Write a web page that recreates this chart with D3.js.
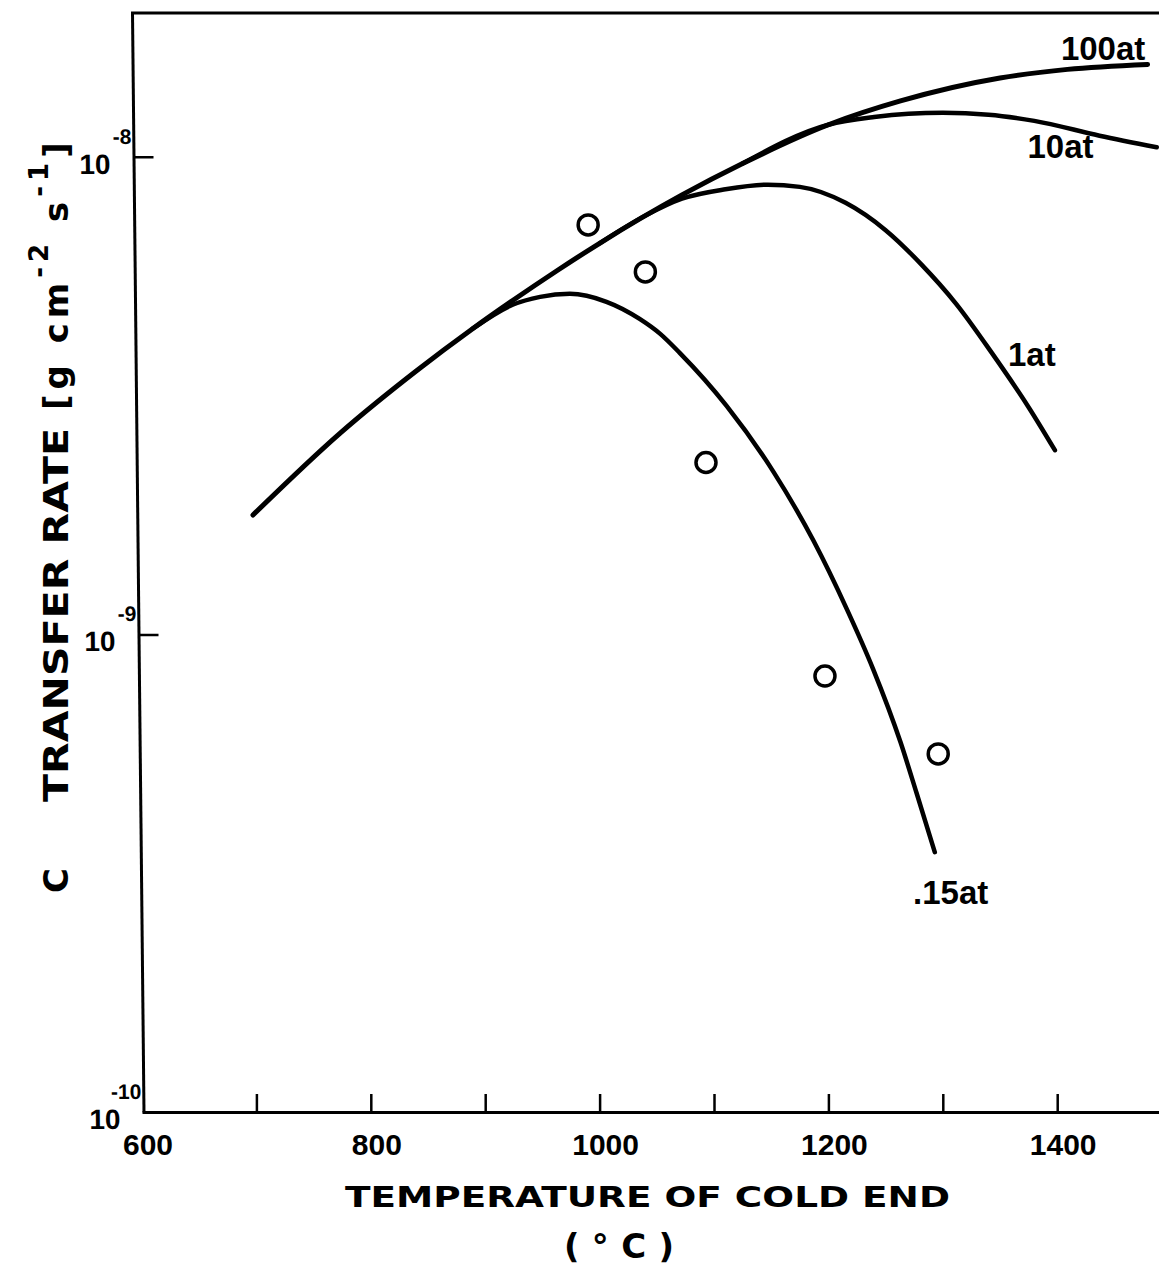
<!DOCTYPE html>
<html>
<head>
<meta charset="utf-8">
<script src="https://cdn.jsdelivr.net/npm/d3@7"></script>
<style>
  html, body { margin: 0; padding: 0; background: #fff; }
  svg { display: block; }
  text { fill: #000; }
</style>
</head>
<body>
<svg id="chart" width="1159" height="1269"></svg>
<script>
// temperature of cold end (deg C) and C transfer rate (g cm^-2 s^-1)
var temps100 = [697, 773, 840, 889, 924, 963, 1000, 1072, 1125, 1200, 1263, 1350, 1409, 1479];
var rates100 = [1.778e-9, 2.636e-9, 3.565e-9, 4.365e-9, 5.0e-9, 5.78e-9, 6.59e-9, 8.32e-9, 9.68e-9,
                1.167e-8, 1.309e-8, 1.462e-8, 1.524e-8, 1.561e-8];

var temps10 = [1125, 1200, 1240, 1270, 1300, 1340, 1380, 1437, 1487];
var rates10 = [9.68e-9, 1.167e-8, 1.211e-8, 1.230e-8, 1.236e-8, 1.225e-8, 1.189e-8, 1.107e-8, 1.047e-8];

var temps1 = [1000, 1040, 1072, 1110, 1147, 1175, 1215, 1250, 1281, 1312, 1343, 1375, 1398];
var rates1 = [6.59e-9, 7.53e-9, 8.17e-9, 8.55e-9, 8.74e-9, 8.65e-9, 8.01e-9, 7.02e-9, 5.96e-9,
              4.91e-9, 3.88e-9, 2.99e-9, 2.43e-9];

var temps015 = [889, 924, 948, 974, 1006, 1035, 1053, 1070, 1111, 1152, 1187, 1216, 1239, 1263, 1277, 1293];
var rates015 = [4.365e-9, 4.90e-9, 5.09e-9, 5.165e-9, 4.97e-9, 4.577e-9, 4.258e-9, 3.886e-9, 3.009e-9,
                2.189e-9, 1.570e-9, 1.131e-9, 8.47e-10, 5.95e-10, 4.66e-10, 3.50e-10];

// measured points (open circles)
var pointTemps = [990, 1040, 1093, 1197, 1296];
var pointRates = [7.20e-9, 5.74e-9, 2.29e-9, 8.18e-10, 5.62e-10];

var seriesNames = ['100at', '10at', '1at', '.15at'];
var labelTemps = [1477, 1374, 1357, 1274];
var labelRates = [1.596e-8, 9.95e-9, 3.65e-9, 2.73e-10];
var labelAnchors = ['end', 'start', 'start', 'start'];

var xTicks = [700, 800, 900, 1000, 1100, 1200, 1300, 1400];
var xTickLabels = [600, 800, 1000, 1200, 1400];
var yTicks = [1e-10, 1e-9, 1e-8];
var yExponents = ['-10', '-9', '-8'];

var svg = d3.select('#chart');

var x = d3.scaleLinear().domain([600, 1500]).range([142, 1171.6]);
var y = d3.scaleLog().domain([1e-10, 2e-8]).range([1112, 13]);

var numFont = '"Liberation Sans", Arial, sans-serif';
var titleFont = '"DejaVu Sans", sans-serif';

// bottom axis, ticks pointing inward
var gx = svg.append('g')
  .attr('transform', 'translate(0,' + y.range()[0] + ')')
  .call(d3.axisBottom(x).tickValues(xTicks).tickSize(-18).tickSizeOuter(0).tickFormat(''));
gx.select('.domain').attr('stroke', '#000').attr('stroke-width', 3);
gx.selectAll('.tick line').attr('stroke', '#000').attr('stroke-width', 2.5);

svg.append('g').selectAll('text')
  .data(xTickLabels)
  .join('text')
  .attr('x', function(d) { return x(d) + 6; })
  .attr('y', 1155)
  .attr('text-anchor', 'middle')
  .attr('font-family', numFont)
  .attr('font-weight', 'bold')
  .attr('font-size', 30)
  .text(function(d) { return d; });

// left axis: the original frame is drawn slightly slanted
var gy = svg.append('g')
  .attr('transform', 'translate(143.5,1112) skewX(0.6) translate(0,-1112)')
  .call(d3.axisLeft(y).tickValues(yTicks).tickSize(-20).tickSizeOuter(0).tickFormat(''));
gy.select('.domain').attr('stroke', '#000').attr('stroke-width', 3);
gy.selectAll('.tick line').attr('stroke', '#000').attr('stroke-width', 2.5);

// "10" with its exponent as one label per tick
var yLab = gy.append('g').selectAll('text')
  .data(yTicks)
  .join('text')
  .attr('transform', function(d) { return 'translate(0,' + y(d) + ')'; })
  .attr('text-anchor', 'end')
  .attr('font-family', numFont)
  .attr('font-weight', 'bold');
yLab.append('tspan')
  .attr('x', -23).attr('y', 17)
  .attr('font-size', 28)
  .text('10');
yLab.append('tspan')
  .attr('x', -2).attr('y', -13)
  .attr('font-size', 21)
  .text(function(d, i) { return yExponents[i]; });

// top frame line
svg.append('line')
  .attr('x1', 131).attr('x2', x(1500))
  .attr('y1', y(2e-8)).attr('y2', y(2e-8))
  .attr('stroke', '#000').attr('stroke-width', 3);

// curves
var line = d3.line()
  .x(function(d) { return x(d[0]); })
  .y(function(d) { return y(d[1]); })
  .curve(d3.curveMonotoneX);

var curves = [
  { temps: temps100, rates: rates100, w: 5 },
  { temps: temps10, rates: rates10, w: 4.5 },
  { temps: temps1, rates: rates1, w: 4.5 },
  { temps: temps015, rates: rates015, w: 4.5 }
];

svg.append('g').selectAll('path')
  .data(curves)
  .join('path')
  .attr('d', function(c) { return line(d3.zip(c.temps, c.rates)); })
  .attr('fill', 'none')
  .attr('stroke', '#000')
  .attr('stroke-width', function(c) { return c.w; })
  .attr('stroke-linecap', 'round')
  .attr('stroke-linejoin', 'round');

// open circles
svg.append('g').selectAll('circle')
  .data(d3.zip(pointTemps, pointRates))
  .join('circle')
  .attr('cx', function(d) { return x(d[0]); })
  .attr('cy', function(d) { return y(d[1]); })
  .attr('r', 10)
  .attr('fill', 'none')
  .attr('stroke', '#000')
  .attr('stroke-width', 3.5);

// curve labels
svg.append('g').selectAll('text')
  .data(seriesNames)
  .join('text')
  .attr('x', function(d, i) { return x(labelTemps[i]); })
  .attr('y', function(d, i) { return y(labelRates[i]); })
  .attr('text-anchor', function(d, i) { return labelAnchors[i]; })
  .attr('font-family', numFont)
  .attr('font-weight', 'bold')
  .attr('font-size', 33)
  .text(function(d) { return d; });

// x title
svg.append('text')
  .attr('x', 345).attr('y', 1207)
  .attr('textLength', 605).attr('lengthAdjust', 'spacingAndGlyphs')
  .attr('font-family', titleFont).attr('font-weight', 'bold').attr('font-size', 28)
  .text('TEMPERATURE OF COLD END');
svg.append('text')
  .attr('x', 564).attr('y', 1258)
  .attr('textLength', 110).attr('lengthAdjust', 'spacing')
  .attr('font-family', titleFont).attr('font-weight', 'bold').attr('font-size', 34)
  .attr('xml:space', 'preserve')
  .text('(\u00B0C)');

// y title, rotated
var yt = svg.append('g').attr('transform', 'translate(68,0) rotate(-90)');
yt.append('text')
  .attr('x', -893).attr('y', 0)
  .attr('font-family', titleFont).attr('font-weight', 'bold').attr('font-size', 34)
  .text('C');
yt.append('text')
  .attr('x', -802).attr('y', 0)
  .attr('textLength', 374).attr('lengthAdjust', 'spacingAndGlyphs')
  .attr('font-family', titleFont).attr('font-weight', 'bold').attr('font-size', 34)
  .text('TRANSFER RATE');
var unit = yt.append('text')
  .attr('x', -410).attr('y', 0)
  .attr('font-family', titleFont).attr('font-weight', 'bold').attr('font-size', 34)
  .attr('letter-spacing', 5)
  .attr('xml:space', 'preserve');
unit.append('tspan').text('[g cm');
unit.append('tspan').attr('dy', -20).attr('font-size', 26).text('-2');
unit.append('tspan').attr('dy', 20).text(' s');
unit.append('tspan').attr('dy', -20).attr('font-size', 26).text('-1');
unit.append('tspan').attr('dy', 20).text(']');
</script>
</body>
</html>
